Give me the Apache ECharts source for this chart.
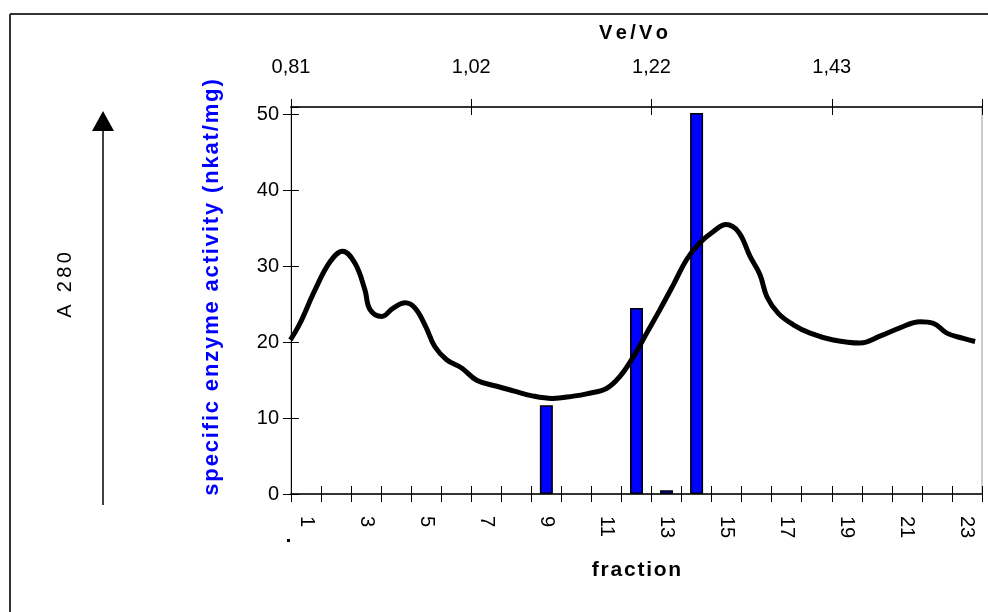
<!DOCTYPE html>
<html>
<head>
<meta charset="utf-8">
<script src="https://cdn.jsdelivr.net/npm/echarts@6/dist/echarts.min.js"></script>
<style>
  html, body { margin: 0; padding: 0; background: #fff; }
  #chart { width: 988px; height: 612px; }
</style>
</head>
<body>
<div id="chart"></div>
<script>
// fractions on the bottom axis
var fractions = ['1', '2', '3', '4', '5', '6', '7', '8', '9', '10', '11', '12',
  '13', '14', '15', '16', '17', '18', '19', '20', '21', '22', '23'];
// specific enzyme activity (nkat/mg), only some fractions were measured
var activity = [null, null, null, null, null, null, null, null, 11.7, null, null, 24.5,
  0.5, 50.2, null, null, null, null, null, null, null, null, null];
// Ve/Vo labels on the top axis, one every 6 fractions
var veVoLabels = ['0,81', '1,02', '1,22', '1,43'];
// A 280 elution profile, sampled along the fraction axis
var a280Fraction = [0.48, 0.8, 1.3, 1.8, 2.22, 2.63, 2.96, 3.13, 3.52, 3.9, 4.3, 4.63,
  4.98, 5.29, 5.68, 6.18, 6.68, 7.35, 7.9, 8.57, 9.2, 9.9, 10.34, 11.0, 11.45, 11.9,
  12.34, 12.78, 13.23, 13.67, 14.11, 14.56, 14.98, 15.4, 15.78, 16.11, 16.34, 16.72,
  17.22, 17.78, 18.55, 19.44, 20.1, 20.77, 21.44, 21.88, 22.33, 22.88, 23.27];
var a280Value = [20.3, 22.5, 26.9, 30.6, 32.0, 30.4, 26.9, 24.3, 23.4, 24.5, 25.2, 24.5,
  22.1, 19.4, 17.7, 16.6, 15.0, 14.2, 13.6, 12.9, 12.6, 12.9, 13.2, 13.9, 15.5, 18.1,
  21.2, 24.3, 27.6, 30.9, 33.1, 34.6, 35.5, 34.5, 31.3, 28.9, 26.0, 23.8,
  22.3, 21.2, 20.3, 19.9, 20.8, 21.9, 22.7, 22.5, 21.2, 20.5, 20.1];

var font = '"Liberation Sans", Arial, sans-serif';
// excel-like letter spacing (hair spaces between the letters)
function spaced(s, n) { return s.split('').join(new Array((n || 1) + 1).join('\u200A')); }

var tickOut = { show: true, inside: false, length: 8, lineStyle: { color: '#000', width: 1 } };
var tickIn = { show: true, inside: true, length: 8, lineStyle: { color: '#000', width: 1 } };
var labelStyle = { fontSize: 20, color: '#000', fontFamily: font };

var myChart = echarts.init(document.getElementById('chart'));

var option = {
  animation: false,
  grid: {
    left: 291, right: 6, top: 107, bottom: 118,
    show: true, borderColor: '#999', borderWidth: 1,
    containLabel: false, outerBoundsMode: 'none'
  },
  xAxis: [
    {
      type: 'category', position: 'bottom', data: fractions,
      axisLine: { lineStyle: { color: '#333', width: 2 } },
      axisTick: Object.assign({ interval: 0 }, tickOut),
      axisLabel: Object.assign({ interval: 1, rotate: -90, margin: 22 }, labelStyle),
      name: spaced('fraction', 1), nameLocation: 'middle', nameGap: 66,
      nameTextStyle: { fontSize: 21, fontWeight: 'bold', color: '#000', fontFamily: font }
    },
    {
      type: 'category', position: 'bottom', data: fractions,
      axisLine: { show: false },
      axisTick: Object.assign({ interval: 0 }, tickIn),
      axisLabel: { show: false }
    },
    {
      type: 'value', position: 'top', min: 0, max: 23, interval: 6,
      splitLine: { show: false },
      axisLine: { show: true, lineStyle: { color: '#333', width: 2 } },
      axisTick: tickOut,
      axisLabel: Object.assign({
        margin: 30,
        formatter: function (v) { return v % 6 === 0 ? (veVoLabels[v / 6] || '') : ''; }
      }, labelStyle),
      name: spaced('Ve/Vo', 2), nameLocation: 'middle', nameGap: 64,
      nameTextStyle: { fontSize: 20, fontWeight: 'bold', color: '#000', fontFamily: font, padding: [0, 6, 0, 0] }
    },
    {
      type: 'value', position: 'top', min: 0, max: 23, interval: 6,
      splitLine: { show: false }, axisLine: { show: false },
      axisTick: tickIn, axisLabel: { show: false }
    },
    // hidden axis for the A 280 trace, in fraction units
    { type: 'value', position: 'bottom', min: 0.5, max: 23.5, show: false }
  ],
  yAxis: [
    {
      type: 'value', position: 'left', min: 0, max: 51, interval: 10,
      splitLine: { show: false },
      axisLine: { show: true, lineStyle: { color: '#000', width: 1 } },
      axisTick: tickOut,
      axisLabel: Object.assign({ margin: 12, showMaxLabel: false }, labelStyle),
      name: spaced('specific enzyme activity (nkat/mg)', 1), nameLocation: 'middle', nameGap: 68,
      nameTextStyle: { fontSize: 22, fontWeight: 'bold', color: '#0000ff', fontFamily: font, padding: [0, 0, 0, 26] }
    },
    {
      type: 'value', position: 'left', min: 0, max: 51, interval: 10,
      splitLine: { show: false }, axisLine: { show: false },
      axisTick: tickIn, axisLabel: { show: false }
    }
  ],
  series: [
    {
      type: 'bar', xAxisIndex: 0, yAxisIndex: 0, data: activity, barWidth: 13,
      itemStyle: { color: '#0000ff', borderColor: '#000', borderWidth: 1.5 }
    },
    {
      type: 'line', xAxisIndex: 4, yAxisIndex: 0,
      data: a280Fraction.map(function (f, i) { return [f, a280Value[i]]; }),
      smooth: 0.4, symbol: 'none',
      lineStyle: { color: '#000', width: 5 }
    }
  ],
  graphic: [
    // outer frame (top and left edges visible)
    { type: 'line', shape: { x1: 10, y1: 14, x2: 988, y2: 14 }, style: { stroke: '#333', lineWidth: 2 } },
    { type: 'line', shape: { x1: 10, y1: 14, x2: 10, y2: 612 }, style: { stroke: '#333', lineWidth: 2 } },
    // A 280 arrow
    { type: 'line', shape: { x1: 103, y1: 505, x2: 103, y2: 128 }, style: { stroke: '#000', lineWidth: 1.5 } },
    { type: 'polygon', shape: { points: [[92, 131], [114, 131], [103, 111]] }, style: { fill: '#000' } },
    {
      type: 'text', x: 65, y: 285, rotation: Math.PI / 2,
      style: { text: spaced('A 280', 2), fontSize: 20, fontFamily: font, fill: '#000', align: 'center', verticalAlign: 'middle' }
    },
    { type: 'rect', shape: { x: 287, y: 539, width: 3, height: 3 }, style: { fill: '#000' } }
  ]
};

myChart.setOption(option);
</script>
</body>
</html>
